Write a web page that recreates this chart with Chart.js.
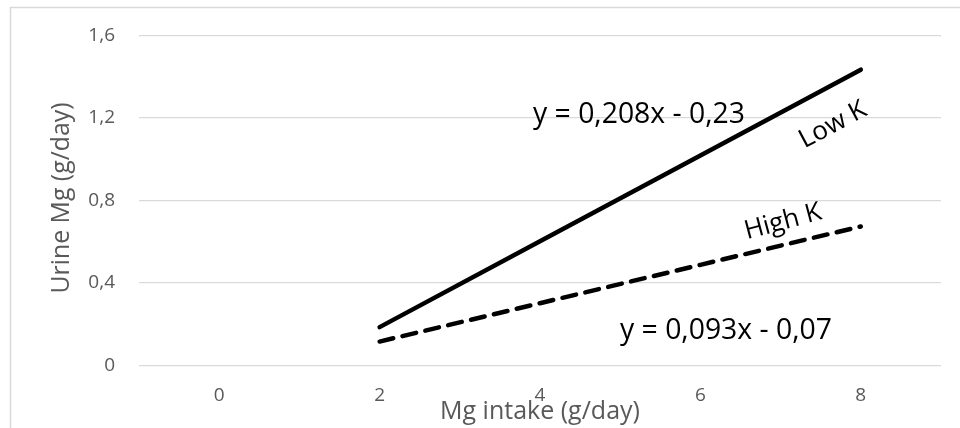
<!DOCTYPE html>
<html><head><meta charset="utf-8">
<script src="https://cdn.jsdelivr.net/npm/chart.js@4/dist/chart.umd.min.js"></script>
<style>html,body{margin:0;padding:0;background:#fff}#wrap{width:960px;height:428px;position:relative}</style>
</head><body><div id="wrap"><canvas id="c" width="960" height="428"></canvas></div>
<script>
const categories = ['0', '2', '4', '6', '8'];
const lowK = [null, 0.186, 0.602, 1.018, 1.434];
const highK = [null, 0.116, 0.302, 0.488, 0.674];
const yTicks = [0, 0.4, 0.8, 1.2, 1.6];
const xTitle = 'Mg intake (g/day)';
const yTitle = 'Urine Mg (g/day)';
const eqLow = 'y = 0,208x - 0,23';
const eqHigh = 'y = 0,093x - 0,07';
const labelLow = 'Low K';
const labelHigh = 'High K';

const FONT = '"Open Sans", sans-serif';
const GRAY = '#595959';

function fitFont(ctx, text, width) {
  ctx.font = '20px ' + FONT;
  const w = ctx.measureText(text).width;
  return 20 * width / w;
}

const overlay = {
  id: 'overlay',
  beforeDraw(chart) {
    const ctx = chart.ctx;
    ctx.save();
    ctx.fillStyle = '#fff';
    ctx.fillRect(0, 0, chart.width, chart.height);
    ctx.strokeStyle = '#d9d9d9';
    ctx.lineWidth = 1.5;
    ctx.strokeRect(10.5, 7.5, 1200, 1200);
    ctx.restore();
  },
  afterDraw(chart) {
    const ctx = chart.ctx;
    ctx.save();
    ctx.textAlign = 'center';
    ctx.textBaseline = 'middle';
    // axis titles
    ctx.fillStyle = GRAY;
    ctx.font = fitFont(ctx, xTitle, 200) + 'px ' + FONT;
    ctx.fillText(xTitle, 540, 412);
    ctx.save();
    ctx.translate(62, 198);
    ctx.rotate(-Math.PI / 2);
    ctx.font = fitFont(ctx, yTitle, 191) + 'px ' + FONT;
    ctx.fillText(yTitle, 0, 0);
    ctx.restore();
    // annotations
    ctx.fillStyle = '#000';
    const eqSize = fitFont(ctx, eqLow, 212);
    ctx.font = eqSize + 'px ' + FONT;
    ctx.fillText(eqLow, 639, 115);
    ctx.fillText(eqHigh, 726, 331);
    ctx.font = (eqSize * 0.92) + 'px ' + FONT;
    ctx.save();
    ctx.translate(833, 125);
    ctx.rotate(-28 * Math.PI / 180);
    ctx.fillText(labelLow, 0, 0);
    ctx.restore();
    ctx.save();
    ctx.translate(783, 222);
    ctx.rotate(-15 * Math.PI / 180);
    ctx.fillText(labelHigh, 0, 0);
    ctx.restore();
    ctx.restore();
  }
};

new Chart(document.getElementById('c'), {
  type: 'line',
  data: {
    labels: categories,
    datasets: [
      { label: labelLow, data: lowK, borderColor: '#000', borderWidth: 4.5, borderCapStyle: 'round', pointRadius: 0, tension: 0, fill: false },
      { label: labelHigh, data: highK, borderColor: '#000', borderWidth: 4.5, borderDash: [14, 9.5], borderCapStyle: 'round', pointRadius: 0, tension: 0, fill: false }
    ]
  },
  options: {
    responsive: false,
    animation: false,
    devicePixelRatio: 1,
    layout: { padding: { left: 0, right: 19, top: 33, bottom: 0 } },
    plugins: { legend: { display: false }, tooltip: { enabled: false } },
    scales: {
      x: {
        type: 'category',
        offset: true,
        grid: { display: false, drawTicks: false },
        border: { display: false },
        ticks: { color: GRAY, font: { family: FONT, size: 19 }, padding: 19, maxRotation: 0 },
        afterFit(s) { s.height = 428 - 365.5; }
      },
      y: {
        min: 0, max: 1.6,
        afterBuildTicks(s) { s.ticks = yTicks.map(v => ({ value: v })); },
        grid: { color: '#d9d9d9', lineWidth: 1.3, drawTicks: false },
        border: { display: false },
        ticks: {
          color: GRAY, font: { family: FONT, size: 19 }, padding: 24,
          callback(v) { return v === 0 ? '0' : v.toFixed(1).replace('.', ','); }
        },
        afterFit(s) { s.width = 139; }
      }
    }
  },
  plugins: [overlay]
});
</script></body></html>
